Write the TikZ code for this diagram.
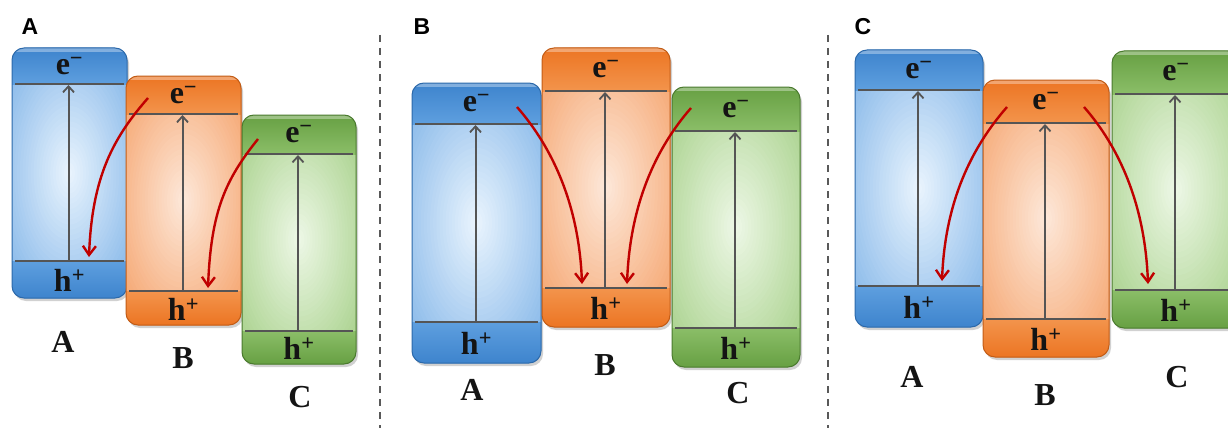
\documentclass[tikz,border=0pt]{standalone}
\usepackage{fontspec}
\setmainfont{Liberation Serif}
\newfontfamily\panelfont{Liberation Sans}
\usetikzlibrary{arrows.meta}

% colour families for the three semiconductors
\definecolor{bluedark}{HTML}{3E84CD}
\definecolor{blueband}{HTML}{5E9FDF}
\definecolor{bluemid}{HTML}{86B8E9}
\definecolor{bluelight}{HTML}{E8F3FD}
\definecolor{blueedge}{HTML}{2C69AA}
\definecolor{orangedark}{HTML}{EC7523}
\definecolor{orangeband}{HTML}{F3944C}
\definecolor{orangemid}{HTML}{F5A56F}
\definecolor{orangelight}{HTML}{FDE7D8}
\definecolor{orangeedge}{HTML}{C25C16}
\definecolor{greendark}{HTML}{67A043}
\definecolor{greenband}{HTML}{8BBE68}
\definecolor{greenmid}{HTML}{A8D18B}
\definecolor{greenlight}{HTML}{ECF7E5}
\definecolor{greenedge}{HTML}{4A7A2E}
\definecolor{levelgray}{HTML}{555555}
\definecolor{transfer}{HTML}{C00000}

\tikzset{
  x=1pt, y={(0pt,-1pt)},
  level/.style={levelgray, line width=2pt},
  excite/.style={levelgray, line width=2pt, -{Straight Barb[length=6pt,width=11pt,line width=1.8pt]}},
  hop/.style={transfer, line width=2.4pt, -{Straight Barb[length=9pt,width=13pt,line width=2.4pt]}},
  carrier/.style={inner sep=0pt, text=black!92, font=\fontsize{32}{32}\selectfont\bfseries},
  material/.style={inner sep=0pt, text=black!92, font=\fontsize{32}{32}\selectfont\bfseries},
  panel/.style={inner sep=0pt, text=black, font=\panelfont\fontsize{23}{23}\selectfont\bfseries},
  divider/.style={black!65, line width=1.6pt, dash pattern=on 7pt off 6pt},
}

% #1 name, #2 x1, #3 y1, #4 x2, #5 y2, #6 conduction level y, #7 valence level y, #8 colour family
\newcommand\bandbox[8]{%
  \fill[black, opacity=.18, rounded corners=12pt] (#2+2,#3+3) rectangle (#4+2,#5+3);
  \begin{scope}
    \clip[rounded corners=12pt] (#2,#3) rectangle (#4,#5);
    \fill[#8mid] (#2,#3) rectangle (#4,#5);
    % soft glow in the middle of the box, built from nested ellipses
    \foreach \k in {0,...,29}{%
      \pgfmathsetmacro\glowpct{100*\k/29}%
      \pgfmathsetmacro\glowrx{(#4-#2)*0.72*(1-\k/30)}%
      \pgfmathsetmacro\glowry{(#5-#3)*0.62*(1-\k/30)}%
      \fill[#8light!\glowpct!#8mid] ({(#2+#4)/2},{(#3+#5)/2}) ellipse ({\glowrx} and {\glowry});
    }
    \shade[top color=#8dark, bottom color=#8band] (#2,#3) rectangle (#4,#6);
    \shade[top color=#8band, bottom color=#8dark] (#2,#7) rectangle (#4,#5);
    \fill[white, opacity=.35] (#2,#3) rectangle (#4,#3+4);
  \end{scope}
  \draw[#8edge, line width=1pt, rounded corners=12pt] (#2,#3) rectangle (#4,#5);
  \coordinate (#1cbL) at (#2+3,#6);
  \coordinate (#1cbR) at (#4-3,#6);
  \coordinate (#1vbL) at (#2+3,#7);
  \coordinate (#1vbR) at (#4-3,#7);
  \coordinate (#1cb) at ({(#2+#4)/2-1},#6+1);
  \coordinate (#1vb) at ({(#2+#4)/2-1},#7);
  \draw[level] (#1cbL) -- (#1cbR);
  \draw[level] (#1vbL) -- (#1vbR);
  \draw[excite] (#1vb) -- (#1cb);
  \node[carrier] (#1e) at ({(#2+#4)/2},{(#3+#6)/2}) {e\textsuperscript{−}};
  \node[carrier] (#1h) at ({(#2+#4)/2},{(#7+#5)/2+1}) {h\textsuperscript{+}};
}

\begin{document}
\begin{tikzpicture}
\useasboundingbox (0,0) rectangle (1228,428);
\clip (0,0) rectangle (1228,428);
\fill[white] (0,0) rectangle (1228,428);

% panel dividers
\coordinate (d1t) at (380,35);
\coordinate (d1b) at (380,428);
\coordinate (d2t) at (828,35);
\coordinate (d2b) at (828,428);
\draw[divider] (d1t) -- (d1b);
\draw[divider] (d2t) -- (d2b);

% panel A: stepwise alignment
\node[panel] (pA) at (30,27) {A};
\bandbox{aA}{12}{48}{127}{298}{84}{261}{blue}
\bandbox{aB}{126}{76}{241}{325}{114}{291}{orange}
\bandbox{aC}{242}{115}{356}{364}{154}{331}{green}
\node[material] (laA) at (63,342) {A};
\node[material] (laB) at (183,358) {B};
\node[material] (laC) at (300,397) {C};
\coordinate (a1s) at (148,98);
\coordinate (a1e) at (89,257);
\coordinate (a2s) at (258,139);
\coordinate (a2e) at (208,288);
\draw[hop] (a1s) .. controls +(-35,40) and +(3,-80) .. (a1e);
\draw[hop] (a2s) .. controls +(-32,40) and +(3,-78) .. (a2e);

% panel B: both outer conduction bands feed the middle valence band
\node[panel] (pB) at (422,27) {B};
\bandbox{bA}{412}{83}{541}{363}{124}{322}{blue}
\bandbox{bB}{542}{48}{670}{327}{91}{288}{orange}
\bandbox{bC}{672}{87}{800}{367}{131}{328}{green}
\node[material] (lbA) at (472,390) {A};
\node[material] (lbB) at (605,365) {B};
\node[material] (lbC) at (738,393) {C};
\coordinate (b1s) at (517,107);
\coordinate (b1e) at (582,284);
\coordinate (b2s) at (691,108);
\coordinate (b2e) at (627,284);
\draw[hop] (b1s) .. controls +(35,40) and +(-3,-80) .. (b1e);
\draw[hop] (b2s) .. controls +(-35,40) and +(3,-80) .. (b2e);

% panel C: the middle conduction band feeds both outer valence bands
\node[panel] (pC) at (863,27) {C};
\bandbox{cA}{855}{50}{983}{327}{90}{286}{blue}
\bandbox{cC}{1112}{51}{1240}{328}{94}{290}{green}
\bandbox{cB}{983}{80}{1109}{357}{123}{319}{orange}
\node[material] (lcA) at (912,377) {A};
\node[material] (lcB) at (1045,395) {B};
\node[material] (lcC) at (1177,377) {C};
\coordinate (c1s) at (1007,107);
\coordinate (c1e) at (942,281);
\coordinate (c2s) at (1084,107);
\coordinate (c2e) at (1148,284);
\draw[hop] (c1s) .. controls +(-35,40) and +(3,-80) .. (c1e);
\draw[hop] (c2s) .. controls +(35,40) and +(-3,-80) .. (c2e);
\end{tikzpicture}
\end{document}
